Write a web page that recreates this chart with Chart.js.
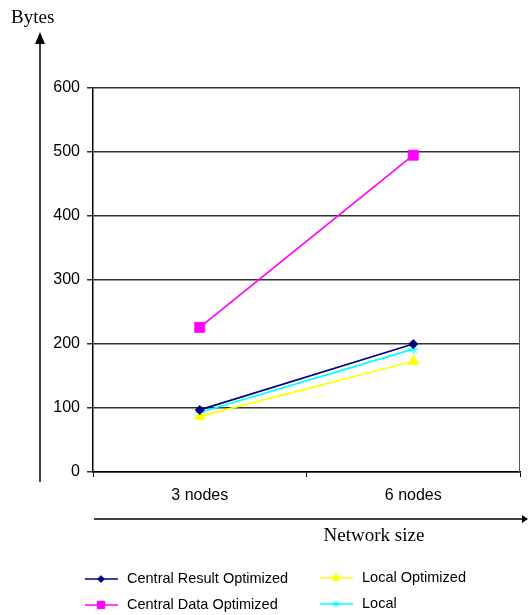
<!DOCTYPE html>
<html>
<head>
<meta charset="utf-8">
<script src="https://cdn.jsdelivr.net/npm/chart.js@4/dist/chart.umd.min.js"></script>
<style>
  html, body { margin: 0; padding: 0; background: #fff; }
  #wrap { width: 528px; height: 615px; }
</style>
</head>
<body>
<div id="wrap"><canvas id="chart" width="528" height="615"></canvas></div>
<script>
const categories = ["3 nodes", "6 nodes"];
const centralResult = [97, 200];
const centralData = [226, 495];
const localOptimized = [87, 173];
const local = [93, 192];

// extras drawn around the plot: axis arrows, titles, legend
const extras = {
    id: "extras",
    afterDraw(chart) {
        const ctx = chart.ctx;
        const a = chart.chartArea;
        ctx.save();

        // right border of plot
        ctx.strokeStyle = "#555";
        ctx.lineWidth = 1;
        ctx.beginPath();
        ctx.moveTo(a.right - 0.5, a.top);
        ctx.lineTo(a.right - 0.5, a.bottom);
        ctx.stroke();

        // vertical arrow
        ctx.strokeStyle = "#000";
        ctx.fillStyle = "#000";
        ctx.lineWidth = 1.5;
        ctx.beginPath();
        ctx.moveTo(40, 482);
        ctx.lineTo(40, 42);
        ctx.stroke();
        ctx.beginPath();
        ctx.moveTo(40, 32);
        ctx.lineTo(35, 44);
        ctx.lineTo(45, 44);
        ctx.closePath();
        ctx.fill();

        // horizontal arrow
        ctx.beginPath();
        ctx.moveTo(94, 519);
        ctx.lineTo(524, 519);
        ctx.stroke();
        ctx.beginPath();
        ctx.moveTo(528, 519);
        ctx.lineTo(522, 515);
        ctx.lineTo(522, 523);
        ctx.closePath();
        ctx.fill();

        ctx.font = "19px 'Liberation Serif', serif";
        ctx.textBaseline = "middle";
        ctx.textAlign = "left";
        ctx.fillText("Bytes", 11, 18);
        ctx.textAlign = "center";
        ctx.fillText("Network size", 374, 536);

        // legend
        const pos = [[85, 579], [85, 605], [320, 578], [320, 604]];
        ctx.font = "14.5px 'Liberation Sans', Arial, sans-serif";
        ctx.textAlign = "left";
        chart.data.datasets.forEach((ds, i) => {
            const [x, y] = pos[i];
            ctx.strokeStyle = ds.borderColor;
            ctx.fillStyle = ds.borderColor;
            ctx.lineWidth = 1.5;
            ctx.beginPath();
            ctx.moveTo(x, y);
            ctx.lineTo(x + 33, y);
            ctx.stroke();
            ctx.lineWidth = 1;
            Chart.helpers.drawPoint(ctx, {
                pointStyle: ds.pointStyle,
                radius: ds.pointRadius * 0.75,
                borderWidth: 1
            }, x + 16, y);
            ctx.fillStyle = "#000";
            ctx.fillText(ds.label, x + 42, y);
        });

        ctx.restore();
    }
};

function series(label, data, color, style, radius) {
    return {
        label: label,
        data: data,
        borderColor: color,
        backgroundColor: color,
        pointBackgroundColor: color,
        pointBorderColor: color,
        pointStyle: style,
        pointRadius: radius,
        pointBorderWidth: 1,
        borderWidth: 1.7,
        tension: 0
    };
}

new Chart(document.getElementById("chart"), {
    type: "line",
    data: {
        labels: categories,
        datasets: [
            series("Central Result Optimized", centralResult, "#000080", "rectRot", 4.5),
            series("Central Data Optimized", centralData, "#ff00ff", "rect", 7),
            series("Local Optimized", localOptimized, "#ffff00", "triangle", 6),
            series("Local", local, "#00ffff", "star", 5)
        ]
    },
    plugins: [extras],
    options: {
        responsive: false,
        animation: false,
        layout: { padding: { top: 88, right: 0, left: 0, bottom: 0 } },
        plugins: {
            legend: { display: false },
            tooltip: { enabled: false }
        },
        scales: {
            x: {
                offset: true,
                afterFit(s) {
                    s.height = 143;
                    s.paddingRight = 0;
                    s.paddingLeft = 0;
                },
                grid: {
                    offset: true,
                    drawOnChartArea: false,
                    drawTicks: true,
                    tickLength: 5,
                    color: "#000"
                },
                border: { color: "#000", width: 1.5 },
                ticks: {
                    color: "#000",
                    padding: 9,
                    font: { family: "'Liberation Sans', Arial, sans-serif", size: 16 }
                }
            },
            y: {
                min: 0,
                max: 600,
                afterFit(s) { s.width = 93; },
                grid: {
                    color: "#333",
                    lineWidth: 1.5,
                    tickLength: 6,
                    tickColor: "#333"
                },
                border: { color: "#000", width: 1.5 },
                ticks: {
                    stepSize: 100,
                    color: "#000",
                    padding: 7,
                    font: { family: "'Liberation Sans', Arial, sans-serif", size: 16 }
                }
            }
        }
    }
});
</script>
</body>
</html>
